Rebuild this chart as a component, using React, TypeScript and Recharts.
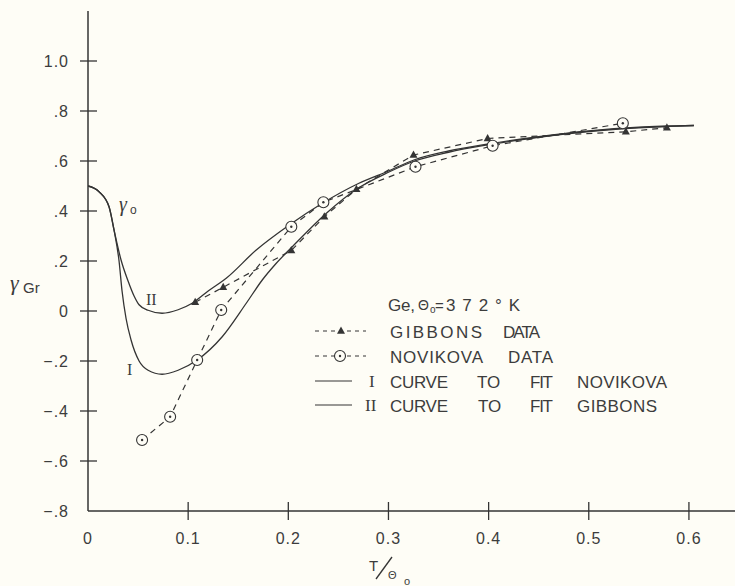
import React from 'react';
import { ComposedChart, Line, XAxis, YAxis } from 'recharts';

// ---- ticks ----
const xTicks = [0, 0.1, 0.2, 0.3, 0.4, 0.5, 0.6];
const xTickLabels = ['0', '0.1', '0.2', '0.3', '0.4', '0.5', '0.6'];
const yTicks = [-0.8, -0.6, -0.4, -0.2, 0, 0.2, 0.4, 0.6, 0.8, 1.0];
const yTickLabels = ['\u2212.8', '\u2212.6', '\u2212.4', '\u2212.2', '0', '.2', '.4', '.6', '.8', '1.0'];

// ---- Gibbons data (triangles) ----
const gibbonsT = [0.107, 0.135, 0.203, 0.236, 0.268, 0.325, 0.399, 0.537, 0.578];
const gibbonsG = [0.035, 0.095, 0.242, 0.377, 0.487, 0.624, 0.69, 0.717, 0.733];

// ---- Novikova data (circles) ----
const novikovaT = [0.054, 0.082, 0.109, 0.133, 0.203, 0.235, 0.327, 0.404, 0.534];
const novikovaG = [-0.516, -0.423, -0.196, 0.004, 0.337, 0.435, 0.577, 0.661, 0.751];

// ---- Curve I (fit Novikova) ----
const curve1T = [0, 0.011, 0.021, 0.026, 0.031, 0.034, 0.038, 0.043, 0.051, 0.06, 0.074, 0.09, 0.109, 0.134, 0.158, 0.174, 0.188, 0.204, 0.238, 0.268, 0.3, 0.326, 0.36, 0.4, 0.45, 0.5, 0.55, 0.605];
const curve1G = [0.5, 0.477, 0.417, 0.324, 0.2, 0.08, -0.03, -0.116, -0.2, -0.237, -0.253, -0.237, -0.196, -0.103, 0.031, 0.124, 0.191, 0.257, 0.391, 0.487, 0.555, 0.6, 0.635, 0.665, 0.695, 0.718, 0.733, 0.742];

// ---- Curve II (fit Gibbons) ----
const curve2T = [0, 0.011, 0.021, 0.026, 0.033, 0.04, 0.046, 0.051, 0.06, 0.074, 0.09, 0.104, 0.12, 0.138, 0.168, 0.201, 0.234, 0.27, 0.3, 0.326, 0.36, 0.4, 0.45, 0.5, 0.55, 0.605];
const curve2G = [0.5, 0.477, 0.417, 0.324, 0.204, 0.12, 0.06, 0.025, 0.003, -0.009, 0.005, 0.031, 0.08, 0.131, 0.244, 0.344, 0.431, 0.51, 0.56, 0.605, 0.64, 0.668, 0.697, 0.72, 0.735, 0.742];

const toPts = (xs: number[], ys: number[]) => xs.map((x, i) => ({ x, y: ys[i] }));
const gibbonsData = toPts(gibbonsT, gibbonsG);
const novikovaData = toPts(novikovaT, novikovaG);
const curve1Data = toPts(curve1T, curve1G);
const curve2Data = toPts(curve2T, curve2G);

const BG = '#fefdf6';
const INK = '#343434';
const TXT = '#3c3c3c';
const FONT = '"Liberation Sans", Arial, sans-serif';
const SERIF = '"Liberation Serif", "DejaVu Serif", serif';

const triDot = (p: any) => {
  if (p.cx == null || p.cy == null) return <g key={`t${p.index}`} />;
  const { cx, cy } = p;
  return <path key={`t${p.index}`} d={`M${cx},${cy - 4.5} L${cx + 4},${cy + 2.8} L${cx - 4},${cy + 2.8} Z`} fill={INK} />;
};

const circDot = (p: any) => {
  if (p.cx == null || p.cy == null) return <g key={`c${p.index}`} />;
  const { cx, cy } = p;
  return (
    <g key={`c${p.index}`}>
      <circle cx={cx} cy={cy} r={5.5} fill={BG} stroke={INK} strokeWidth={1.1} />
      <circle cx={cx} cy={cy} r={1.2} fill={INK} />
    </g>
  );
};

const XTick = (props: any) => {
  const { x, y, payload } = props;
  const i = xTicks.indexOf(payload.value);
  return (
    <g>
      {payload.value !== 0 && <line x1={x} x2={x} y1={y - 9} y2={y + 9} stroke={INK} strokeWidth={1.3} />}
      <text x={x} y={y + 27} textAnchor="middle" dominantBaseline="central" fontFamily={FONT} fontSize={16} letterSpacing={1} fill={TXT}>
        {xTickLabels[i]}
      </text>
    </g>
  );
};

const YTick = (props: any) => {
  const { x, y, payload } = props;
  const i = yTicks.findIndex((v) => Math.abs(v - payload.value) < 1e-6);
  return (
    <g>
      {payload.value !== -0.8 && <line x1={x - 8} x2={x + 9} y1={y} y2={y} stroke={INK} strokeWidth={1.3} />}
      <text x={x - 19} y={y} textAnchor="end" dominantBaseline="central" fontFamily={FONT} fontSize={16} letterSpacing={1} fill={TXT}>
        {i >= 0 ? yTickLabels[i] : ''}
      </text>
    </g>
  );
};

const T = (p: any) => (
  <text
    x={p.x}
    y={p.y}
    dominantBaseline="central"
    fontFamily={p.serif ? SERIF : FONT}
    fontSize={p.size || 17}
    fill={TXT}
    textLength={p.len}
    lengthAdjust={p.len ? 'spacing' : undefined}
    fontStyle={p.italic ? 'italic' : undefined}
    textAnchor={p.anchor}
  >
    {p.children}
  </text>
);

export default function App() {
  return (
    <div style={{ position: 'absolute', left: 0, top: 0, width: 735, height: 586, background: BG }}>
      <ComposedChart width={735} height={586} margin={{ top: 11, right: 0, bottom: 0, left: 0 }}>
        <XAxis
          type="number"
          dataKey="x"
          domain={[0, 0.646]}
          ticks={xTicks}
          interval={0}
          allowDataOverflow
          height={75}
          tickSize={0}
          tickMargin={0}
          tickLine={false}
          axisLine={{ stroke: INK, strokeWidth: 1.5 }}
          tick={<XTick />}
        />
        <YAxis
          type="number"
          dataKey="y"
          domain={[-0.8, 1.2]}
          ticks={yTicks}
          interval={0}
          allowDataOverflow
          width={88}
          tickSize={0}
          tickMargin={0}
          tickLine={false}
          axisLine={{ stroke: INK, strokeWidth: 1.5 }}
          tick={<YTick />}
        />
        <Line data={curve1Data} dataKey="y" type="monotone" stroke={INK} strokeWidth={1.3} dot={false} isAnimationActive={false} />
        <Line data={curve2Data} dataKey="y" type="monotone" stroke={INK} strokeWidth={1.3} dot={false} isAnimationActive={false} />
        <Line data={gibbonsData} dataKey="y" type="linear" stroke={INK} strokeWidth={1.2} strokeDasharray="6 5" dot={triDot} isAnimationActive={false} />
        <Line data={novikovaData} dataKey="y" type="linear" stroke={INK} strokeWidth={1.2} strokeDasharray="6 5" dot={circDot} isAnimationActive={false} />
      </ComposedChart>
      <svg width={735} height={586} style={{ position: 'absolute', left: 0, top: 0, pointerEvents: 'none' }}>
        {/* y-axis title */}
        <T x={10} y={282} size={22} serif italic>γ</T>
        <T x={23} y={287} size={15}>Gr</T>
        {/* gamma_0 */}
        <T x={119} y={204} size={20} serif italic>γ</T>
        <T x={130} y={210} size={12}>o</T>
        {/* curve labels */}
        <T x={146} y={299} size={16} serif>II</T>
        <T x={127} y={369} size={16} serif>I</T>
        {/* x-axis title */}
        <T x={369} y={565} size={15}>T</T>
        <line x1={376} y1={579} x2={392} y2={557} stroke={INK} strokeWidth={1.3} />
        <T x={388} y={575} size={11}>Θ</T>
        <T x={404} y={581} size={11}>o</T>
        {/* legend */}
        <T x={388} y={305} len={27}>Ge,</T>
        <T x={418} y={305} size={14}>Θ</T>
        <T x={430} y={309} size={10}>o</T>
        <T x={435} y={305} size={15}>=</T>
        <T x={446} y={305} len={74}>372°K</T>

        <line x1={315} x2={366} y1={331} y2={331} stroke={INK} strokeWidth={1.1} strokeDasharray="4 4" />
        {triDot({ cx: 341, cy: 331, index: 'lg' })}
        <T x={390} y={332} len={92}>GIBBONS</T>
        <T x={503} y={332} len={37}>DATA</T>

        <line x1={315} x2={366} y1={356} y2={356} stroke={INK} strokeWidth={1.1} strokeDasharray="4 4" />
        {circDot({ cx: 340, cy: 356, index: 'lg' })}
        <T x={390} y={357} len={93}>NOVIKOVA</T>
        <T x={508} y={357} len={45}>DATA</T>

        <line x1={315} x2={352} y1={381} y2={381} stroke={INK} strokeWidth={1.2} />
        <T x={369} y={381} size={17} serif>I</T>
        <T x={390} y={382} len={58}>CURVE</T>
        <T x={477} y={382}>TO</T>
        <T x={530} y={382} len={23}>FIT</T>
        <T x={577} y={382} len={90}>NOVIKOVA</T>

        <line x1={315} x2={352} y1={405} y2={405} stroke={INK} strokeWidth={1.2} />
        <T x={365} y={405} size={17} serif>II</T>
        <T x={390} y={406} len={58}>CURVE</T>
        <T x={478} y={406}>TO</T>
        <T x={530} y={406} len={23}>FIT</T>
        <T x={577} y={406} len={80}>GIBBONS</T>
      </svg>
    </div>
  );
}
